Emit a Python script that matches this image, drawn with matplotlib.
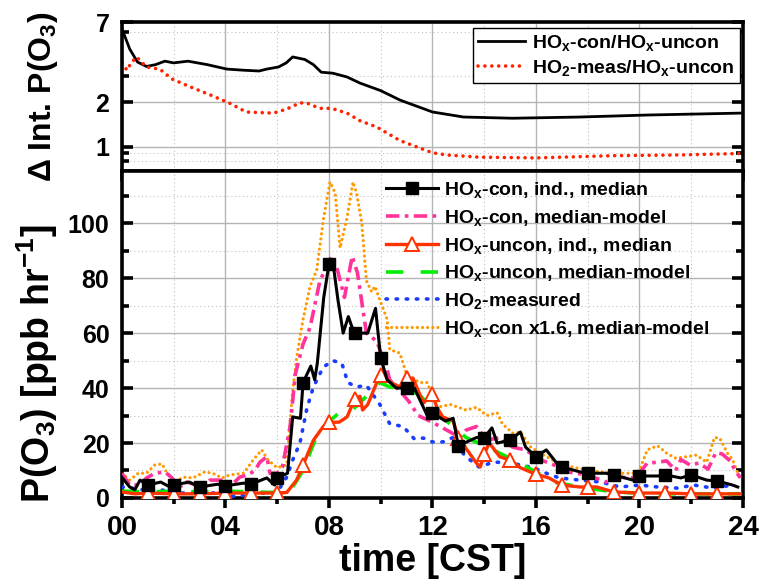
import matplotlib
matplotlib.use("Agg")
import matplotlib.pyplot as plt
from matplotlib.ticker import FixedLocator, FixedFormatter, MultipleLocator, NullFormatter

plt.rcParams['font.family'] = ['Liberation Sans', 'DejaVu Sans']
plt.rcParams['font.weight'] = 'bold'
plt.rcParams['axes.labelweight'] = 'bold'
plt.rcParams['mathtext.fontset'] = 'custom'
plt.rcParams['mathtext.rm'] = 'Liberation Sans:bold'
plt.rcParams['mathtext.it'] = 'Liberation Sans:bold'
plt.rcParams['mathtext.bf'] = 'Liberation Sans:bold'
plt.rcParams['mathtext.default'] = 'rm'

# ---- top panel: ratios of integrated P(O3) ----
ratio_con_t = [0, 0.3, 0.6, 0.95, 1.3, 1.66, 2.0, 2.55, 3.3, 4.05, 4.7, 5.3, 5.6, 6.05, 6.35,
               6.6, 7.07, 7.4, 7.7, 8.15, 8.7, 9.2, 10.0, 10.75, 12.0, 13.2, 15.1, 17.7, 20.3, 23.9]
ratio_con = [6.3, 4.6, 3.75, 3.5, 3.6, 3.8, 3.7, 3.8, 3.6, 3.36, 3.3, 3.26, 3.36, 3.47, 3.7,
             4.06, 3.9, 3.6, 3.2, 3.15, 2.97, 2.7, 2.4, 2.07, 1.72, 1.59, 1.56, 1.59, 1.64, 1.69]

ratio_meas_t = [0, 0.2, 0.35, 0.57, 0.95, 1.47, 1.93, 2.63, 3.4, 4.17, 4.8, 5.85, 6.37, 6.87,
                7.14, 7.65, 8.1, 8.7, 9.2, 9.85, 10.75, 12.0, 12.55, 13.8, 16.0, 19.0, 21.6, 23.9]
ratio_meas = [3.68, 3.3, 3.7, 4.05, 3.47, 3.35, 2.88, 2.55, 2.25, 1.97, 1.72, 1.69, 1.8, 1.98,
              1.98, 1.82, 1.82, 1.69, 1.5, 1.36, 1.1, 0.91, 0.88, 0.85, 0.84, 0.87, 0.88, 0.90]

# ---- bottom panel: P(O3) [ppb/hr] ----
con_t = [0.0, 0.3, 0.5, 0.7, 1.0, 1.5, 1.85, 2.0, 2.6, 3.0, 3.7, 4.0, 4.7, 5.0, 5.6, 5.9, 6.0,
         6.4, 6.6, 6.9, 7.0, 7.3, 7.45, 7.55, 7.8, 8.0, 8.15, 8.35, 8.55, 8.75, 8.9, 9.0, 9.5,
         9.8, 10.0, 10.25, 10.6, 11.0, 11.3, 11.8, 12.0, 12.5, 12.8, 13.0, 13.7, 14.0, 14.3,
         14.5, 15.0, 15.4, 15.6, 16.0, 16.4, 16.8, 17.0, 17.7, 18.0, 18.7, 19.0, 19.75, 20.0,
         20.7, 21.0, 21.6, 22.0, 22.6, 23.0, 23.6, 23.8]
con = [7.5, 4.0, 3.0, 6.5, 4.7, 5.8, 4.0, 4.7, 5.8, 4.0, 5.0, 4.4, 5.4, 5.1, 7.3, 4.7, 7.3,
       9.0, 29.5, 29.0, 42, 48, 43, 49, 73, 85, 86, 72, 60, 66, 62, 60, 60,
       69, 51, 43, 40, 40, 40, 30, 31, 28, 29, 19, 22, 22, 25.5,
       20, 21, 24, 18.5, 15, 17.5, 12.7, 11.3, 9.5, 9, 9, 8.4, 6.5, 8,
       8, 8.4, 7.3, 8.4, 6.5, 6.2, 4.7, 4.0]

mcon_t = [0.0, 0.3, 0.7, 0.95, 1.28, 1.66, 1.9, 2.24, 2.5, 2.9, 3.2, 3.4, 3.9, 4.24, 4.55,
          4.87, 5.14, 5.33, 5.6, 5.72, 6.0, 6.2, 6.5, 6.7, 7.0, 7.27, 7.65, 8.1, 8.3, 8.6,
          8.9, 9.1, 9.45, 9.85, 10.25, 10.35, 10.74, 11.1, 11.45, 11.9, 12.4, 13.07, 13.3,
          13.7, 14.1, 14.6, 15.1, 15.6, 16.15, 16.7, 17.2, 18.0, 18.7, 19.1, 19.75, 20.0,
          20.3, 20.7, 21.05, 21.4, 21.6, 21.95, 22.3, 22.65, 22.95, 23.2, 23.5, 23.7, 23.9]
mcon = [9, 4.7, 4.7, 7.3, 9, 9.5, 7.6, 4, 5.8, 4.7, 3.6, 6.5, 6.5, 4.7, 7.6,
        8.4, 10, 13, 15, 9, 9, 11.3, 26, 45, 56, 62, 79, 88, 84, 73,
        88, 82, 60, 57, 46.5, 43, 39, 35, 30, 28, 25.5, 22, 24.7,
        26, 21, 22, 18.5, 17.5, 14, 12, 9.5, 8.4, 5.8, 7.6, 7.3, 9,
        12.7, 13, 13.5, 10, 14, 12, 12.7, 10.5, 16.5, 16, 13.5, 10, 7.3]

uncon_t = [0.0, 0.5, 1.0, 2.0, 3.0, 4.0, 5.0, 6.0, 6.37, 6.75, 7.0, 7.4, 7.78, 8.0, 8.4,
           8.7, 8.93, 9.0, 9.2, 9.3, 9.5, 9.85, 10.0, 10.4, 10.74, 11.0, 11.25, 11.65, 11.9,
           12.0, 12.17, 12.4, 12.8, 13.0, 13.3, 13.7, 13.85, 14.0, 14.2, 14.6, 15.0, 15.4,
           15.9, 16.0, 16.5, 17.0, 17.7, 18.0, 18.35, 19.0, 20.0, 21.0, 22.0, 23.0, 23.9]
uncon = [2.2, 1.5, 1.8, 1.5, 1.5, 1.8, 1.8, 1.8, 2.0, 6.5, 12, 21, 26, 27.5, 27.6,
         29.5, 34.5, 36, 37, 32, 34, 42, 44.7, 42, 40.4, 43.5, 43.6, 34.5, 37,
         38, 33, 29.5, 28, 22, 18, 12.7, 11.3, 16, 20, 15, 13.8, 11,
         9, 8.7, 7.3, 4.7, 4, 4, 4, 2.2, 1.8, 1.8, 1.5, 1.5, 1.5]

munc_t = [0, 1, 2, 3, 4, 5, 6, 6.5, 7.0, 7.5, 7.9, 8.4, 8.9, 9.45, 9.97, 10.35, 10.6, 11.0,
          11.5, 12.17, 13.3, 14.35, 15.5, 16.7, 17.7, 19.0, 20.5, 22.1, 23.9]
munc = [2.5, 2.2, 2.5, 2.2, 2.5, 2.2, 2.0, 2.5, 10, 22, 27, 31, 32, 37, 42, 40.4, 40, 40,
        37.5, 31, 22, 17.5, 12, 5.8, 4, 2.2, 1.5, 1.5, 1.5]

meas_t = [0, 0.8, 1.47, 2.24, 2.95, 3.67, 4.44, 5.07, 5.85, 6.1, 6.37, 6.6, 6.88, 7.15, 7.4,
          7.78, 8.15, 8.5, 8.73, 9.07, 9.45, 9.97, 10.35, 10.87, 11.3, 11.65, 12.0, 12.4,
          12.8, 13.07, 13.3, 13.8, 14.35, 14.9, 15.4, 15.9, 16.4, 16.9, 17.7, 18.5, 19.25,
          20.0, 20.7, 21.45, 22.1, 22.85, 23.6]
meas = [4, 3, 3, 1.8, 1.8, 1.8, 0.4, 1.8, 1.8, 3.6, 7.6, 13.8, 20, 32.7, 40.4,
        47.6, 50, 49, 42, 40.4, 41, 34, 27, 26, 21.5, 21.8, 20.4, 20.4,
        22, 17.5, 15, 11.3, 13, 13, 12, 11, 9, 7.3, 6.5, 5.8, 4,
        4.7, 4, 3.6, 4.7, 3.6, 4.7]

x16_t = [0, 0.3, 0.63, 0.95, 1.27, 1.55, 1.74, 2.1, 2.35, 2.75, 3.2, 3.5, 3.87, 4.17, 4.7,
         5.07, 5.4, 5.65, 6.0, 6.37, 6.5, 6.6, 6.75, 7.0, 7.27, 7.53, 7.78, 8.04, 8.24, 8.36,
         8.43, 8.7, 8.93, 9.07, 9.27, 9.45, 9.65, 9.78, 9.97, 10.25, 10.35, 10.74, 11.0, 11.5,
         11.8, 12.17, 12.7, 13.3, 13.7, 14.1, 14.5, 14.7, 15.1, 15.4, 15.8, 16.3, 16.8, 17.4,
         18.0, 18.5, 19.1, 19.75, 20.0, 20.3, 20.7, 21.05, 21.4, 21.8, 22.2, 22.6, 22.9,
         23.1, 23.4, 23.6, 23.8]
x16 = [9, 6.5, 9, 9, 12, 12.4, 9, 5.8, 7.6, 7.3, 9.5, 9, 7.3, 8.4, 9,
       13.8, 17.5, 13.8, 11, 12, 28, 39, 51, 65, 77, 83, 101, 115, 111, 98.5,
       91, 102, 115, 111, 100, 79, 75, 77, 72, 65, 54, 52.7, 45, 42,
       42, 33, 34, 32, 33, 30, 31, 27, 23.6, 24, 18.5, 15.6, 13, 11.3,
       10, 9.5, 9, 9, 10, 17.5, 19, 16.3, 14.5, 15, 15.6, 13, 22,
       21.8, 16.3, 14, 9]

hour_ticks = [0, 4, 8, 12, 16, 20, 24]
hour_labels = ['00', '04', '08', '12', '16', '20', '24']


def hourly(ts):
    return [i for i, t in enumerate(ts) if float(t).is_integer() and 0 < t < 24]


def style_axes(ax):
    for sp in ax.spines.values():
        sp.set_linewidth(2.6)
    ax.set_xlim(0, 24)
    ax.xaxis.set_major_locator(FixedLocator(hour_ticks))
    ax.xaxis.set_minor_locator(MultipleLocator(2))
    ax.tick_params(axis='x', which='both', direction='out', top=False, width=2.6)
    ax.tick_params(axis='x', which='major', length=7)
    ax.tick_params(axis='x', which='minor', length=4)
    ax.tick_params(axis='y', which='both', direction='in', left=True, right=True, width=2.6)
    ax.tick_params(axis='y', which='major', length=8, pad=9, labelsize=18)
    ax.tick_params(axis='y', which='minor', length=5)
    ax.grid(True, which='major', color='#b4b4b4', lw=1.0, ls='-')
    ax.grid(True, which='minor', color='#c0c0c0', lw=0.8, ls=(0, (1, 2.5)))
    ax.set_axisbelow(True)


fig = plt.figure(figsize=(7.62, 5.84), dpi=100)
ax_top = fig.add_axes([0.160, 0.7072, 0.815, 0.2551])
ax_bot = fig.add_axes([0.160, 0.1473, 0.815, 0.5599])

# top panel
style_axes(ax_top)
ax_top.set_yscale('log')
ax_top.set_ylim(0.685, 7)
ax_top.yaxis.set_major_locator(FixedLocator([1, 2, 7]))
ax_top.yaxis.set_major_formatter(FixedFormatter(['1', '2', '7']))
ax_top.yaxis.set_minor_locator(FixedLocator([0.8, 0.9, 3, 6]))
ax_top.yaxis.set_minor_formatter(NullFormatter())
ax_top.xaxis.set_major_formatter(NullFormatter())
ax_top.plot(ratio_con_t, ratio_con, color='black', lw=2.0, label='HO$_x$-con/HO$_x$-uncon')
ax_top.plot(ratio_meas_t, ratio_meas, color='#ff2200', lw=2.6, ls=(0, (0.01, 1.9)),
            dash_capstyle='round', label='HO$_2$-meas/HO$_x$-uncon')
leg_t = ax_top.legend(loc='upper right', bbox_to_anchor=(0.995, 0.96), fontsize=14,
                      handlelength=2.4, handletextpad=0.4, borderpad=0.25, labelspacing=0.25,
                      fancybox=False, edgecolor='black', framealpha=1, borderaxespad=0)
leg_t.get_frame().set_linewidth(1.0)
ax_top.set_ylabel('\u0394 Int. P(O$_3$)', fontsize=23)
ax_top.yaxis.set_label_coords(-0.1, 0.5)

# bottom panel
style_axes(ax_bot)
ax_bot.set_ylim(0, 119)
ax_bot.yaxis.set_major_locator(MultipleLocator(20))
ax_bot.yaxis.set_minor_locator(MultipleLocator(10))
ax_bot.xaxis.set_major_formatter(FixedFormatter(hour_labels))
ax_bot.tick_params(axis='x', which='major', labelsize=20, pad=5)

h_x16, = ax_bot.plot(x16_t, x16, color='#ff9900', lw=2.3, ls=(0, (0.01, 1.6)),
                     dash_capstyle='round', zorder=2)
h_meas, = ax_bot.plot(meas_t, meas, color='#1a3cff', lw=2.6, ls=(0, (0.4, 2.4)),
                      dash_capstyle='round', zorder=3)
h_mcon, = ax_bot.plot(mcon_t, mcon, color='#ff3399', lw=2.6, ls=(0, (3.7, 1.5, 1.0, 1.5)),
                      zorder=4)
h_munc, = ax_bot.plot(munc_t, munc, color='#00ee00', lw=2.6, ls=(0, (4.8, 4.8)), zorder=5)
h_uncon, = ax_bot.plot(uncon_t, uncon, color='#ff3300', lw=2.4, marker='^', ms=10,
                       mfc='white', mec='#ff3300', mew=1.4, markevery=hourly(uncon_t), zorder=6)
h_con, = ax_bot.plot(con_t, con, color='black', lw=2.2, marker='s', ms=8,
                     markevery=hourly(con_t), zorder=7)

ax_bot.legend([h_con, h_mcon, h_uncon, h_munc, h_meas, h_x16],
              ['HO$_x$-con, ind., median', 'HO$_x$-con, median-model',
               'HO$_x$-uncon, ind., median', 'HO$_x$-uncon, median-model',
               'HO$_2$-measured', 'HO$_x$-con x1.6, median-model'],
              loc='upper left', bbox_to_anchor=(0.425, 0.972), fontsize=14, numpoints=1,
              handlelength=2.7, handletextpad=0.3, labelspacing=0.4, frameon=False,
              borderpad=0, borderaxespad=0)

ax_bot.set_ylabel('P(O$_3$) [ppb hr$^{-1}$]', fontsize=27)
ax_bot.yaxis.set_label_coords(-0.1, 0.41)
ax_bot.set_xlabel('time [CST]', fontsize=27, labelpad=2)

fig.savefig('out.png', dpi=100)
